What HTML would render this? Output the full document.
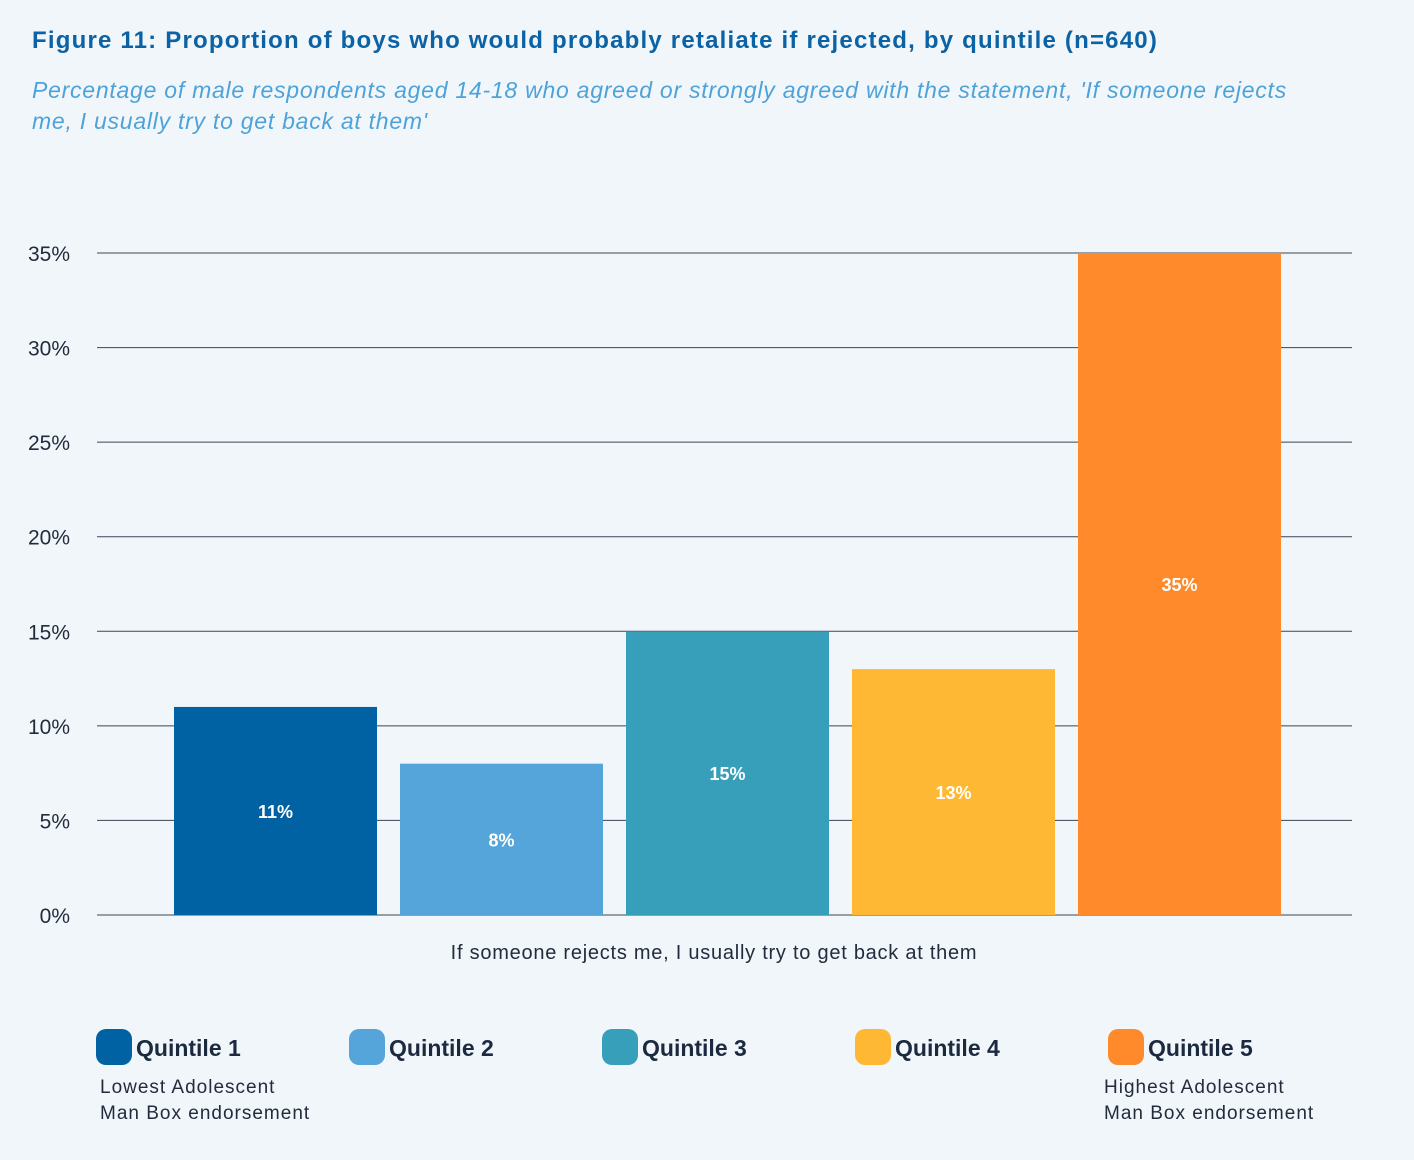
<!DOCTYPE html>
<html><head><meta charset="utf-8">
<style>
body{margin:0;width:1414px;height:1160px;background:#f1f6fa;font-family:"Liberation Sans",sans-serif;overflow:hidden;position:relative}
.t{position:absolute;white-space:nowrap}
</style></head><body>
<div class="t" style="left:32px;top:27px;font-size:24px;letter-spacing:1.2px;font-weight:bold;color:#0b62a4">Figure 11: Proportion of boys who would probably retaliate if rejected, by quintile (n=640)</div>
<div class="t" style="left:32px;top:75px;font-size:23px;letter-spacing:0.75px;font-style:italic;color:#4da3d9;line-height:31px;white-space:normal;width:1280px">Percentage of male respondents aged 14-18 who agreed or strongly agreed with the statement, 'If someone rejects<br>me, I usually try to get back at them'</div>
<svg id="chart" width="1414" height="1160" style="position:absolute;left:0;top:0"></svg>
<div class="t" style="left:0;width:1428px;text-align:center;top:942px;font-size:20px;letter-spacing:0.75px;color:#222c3c">If someone rejects me, I usually try to get back at them</div>
<div class="t" style="left:100px;top:1075px;font-size:19px;letter-spacing:1px;line-height:26px;color:#222c3c">Lowest Adolescent<br>Man Box endorsement</div>
<div class="t" style="left:1104px;top:1075px;font-size:19px;letter-spacing:1px;line-height:26px;color:#222c3c">Highest Adolescent<br>Man Box endorsement</div>
<script>
const categories=["Quintile 1","Quintile 2","Quintile 3","Quintile 4","Quintile 5"];
const values=[11,8,15,13,35];
const colors=["#0061a3","#55a5db","#389fbb","#ffb834","#ff8a2b"];
const ticks=[0,5,10,15,20,25,30,35];
const NS="http://www.w3.org/2000/svg";
const svg=document.getElementById('chart');
const y=v=>915-v*(915-253)/35;
const x=i=>174+i*226;
const bw=203;
function mk(t,a){const e=document.createElementNS(NS,t);for(const k in a)e.setAttribute(k,a[k]);svg.appendChild(e);return e;}
ticks.forEach(t=>{
 const l=mk('line',{x1:97,x2:1352,y1:y(t),y2:y(t),stroke:'#3a4556','stroke-width':1});
 
 
 const tx=mk('text',{x:70,y:y(t)+8,'text-anchor':'end','font-size':21,fill:'#222c3c','font-family':'Liberation Sans, sans-serif'});
 tx.textContent=t+'%';
 
 
});
values.forEach((v,i)=>{
 const r=mk('rect',{x:x(i),y:y(v),width:bw,height:y(0)-y(v),fill:colors[i]});
 
 
 const tx=mk('text',{x:x(i)+bw/2,y:(y(v)+y(0))/2+7,'text-anchor':'middle','font-size':18,'font-weight':'bold',fill:'#fff','font-family':'Liberation Sans, sans-serif'});
 tx.textContent=v+'%';
 
 
 const lx=96+i*253;
 const s=mk('rect',{x:lx,y:1029,width:36,height:36,rx:10,fill:colors[i]});
 
 
 const lt=mk('text',{x:lx+40,y:1056,'font-size':23,'font-weight':'bold',fill:'#1c2a40','font-family':'Liberation Sans, sans-serif'});
 lt.textContent=categories[i];
 
 
});
</script>
</body></html>
